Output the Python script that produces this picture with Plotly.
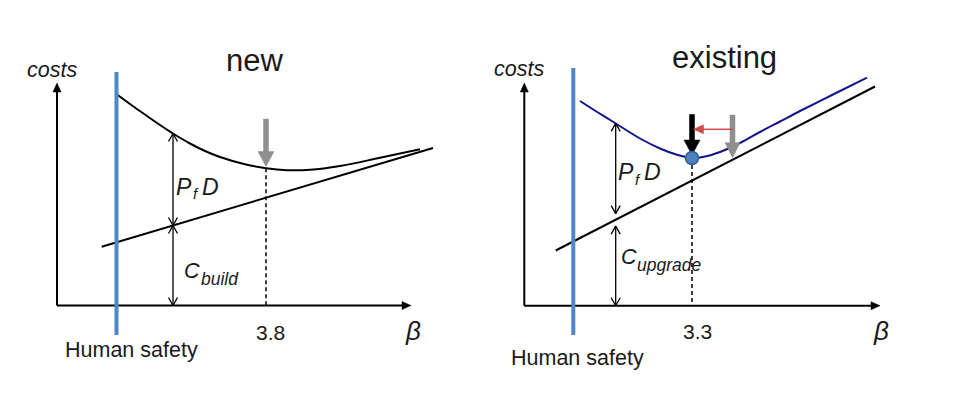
import numpy as np
import plotly.graph_objects as go

# ---------------- data (diagram units, one unit = one pixel of the canvas) ----------------
# Panel "new"
new_total_x = [117.7, 132, 147, 160, 173, 190, 205, 220, 245, 266, 287, 310, 340, 380, 420]
new_total_y = [95, 105.5, 116, 125, 133.5, 143.5, 151, 157, 164.3, 168.2, 170.2, 169.8, 166, 157.8, 149.3]
new_build_x = [101.7, 433]
new_build_y = [246.7, 148]
new_opt_x = 266          # beta = 3.8
new_tick_label = "3.8"

# Panel "existing"
ex_total_x = [580, 598, 615, 640, 660, 677, 692, 704, 720, 740, 760, 780, 800, 833, 867]
ex_total_y = [101, 112.5, 123, 138.5, 148.5, 154.8, 158, 156.8, 152, 143, 132, 121.5, 111, 94.5, 77.7]
ex_upgrade_x = [555.7, 875]
ex_upgrade_y = [250.5, 86.5]
ex_opt_x = 692           # beta = 3.3
ex_opt_y = 158
ex_tick_label = "3.3"
ex_old_opt_x = 732.5

FONT = "Liberation Sans, Arial, sans-serif"
TXT = "#1a1a1a"
PAGE_OFFSET = 8  # default body margin of the html page

fig = go.Figure()


def add_line(xs, ys, color="#000000", width=2, dash=None, shape="linear"):
    fig.add_trace(go.Scatter(x=xs, y=ys, mode="lines",
                             line=dict(color=color, width=width, dash=dash, shape=shape, smoothing=1.0),
                             hoverinfo="skip", showlegend=False))


def add_poly(xs, ys, color):
    fig.add_trace(go.Scatter(x=xs, y=ys, mode="lines", fill="toself", fillcolor=color,
                             line=dict(color=color, width=0.5),
                             hoverinfo="skip", showlegend=False))


def unit(x0, y0, x1, y1):
    d = np.array([x1 - x0, y1 - y0], float)
    d /= np.linalg.norm(d)
    n = np.array([-d[1], d[0]])
    return d, n


def block_arrow(x0, y0, x1, y1, shaft, hl, hw, color):
    d, n = unit(x0, y0, x1, y1)
    p0 = np.array([x0, y0], float)
    tip = np.array([x1, y1], float)
    base = tip - d * hl
    pts = [p0 + n * shaft / 2, base + n * shaft / 2, base + n * hw / 2, tip,
           base - n * hw / 2, base - n * shaft / 2, p0 - n * shaft / 2, p0 + n * shaft / 2]
    add_poly([p[0] for p in pts], [p[1] for p in pts], color)


def axis_arrow(x0, y0, x1, y1, color="#000000"):
    d, n = unit(x0, y0, x1, y1)
    tip = np.array([x1, y1], float)
    base = tip - d * 9
    add_line([x0, base[0]], [y0, base[1]], color, 2)
    pts = [base + n * 4, tip, base - n * 4, base + n * 4]
    add_poly([p[0] for p in pts], [p[1] for p in pts], color)


def open_head(x0, y0, x1, y1, color="#000000", hl=8, hw=9):
    d, n = unit(x0, y0, x1, y1)
    tip = np.array([x1, y1], float)
    base = tip - d * hl
    pts = [base + n * hw / 2, tip, base - n * hw / 2]
    add_line([p[0] for p in pts], [p[1] for p in pts], color, 1.3)


def dim_arrow(x, y0, y1, color="#000000"):
    add_line([x, x], [y0, y1], color, 1.3)
    open_head(x, y1, x, y0, color)
    open_head(x, y0, x, y1, color)


def line_y_at(xs, ys, x):
    return float(np.interp(x, xs, ys))


def txt(x, y, s, size, italic=False, xanchor="center"):
    fig.add_annotation(x=x, y=y, xref="x", yref="y", text=s, showarrow=False,
                       xanchor=xanchor, yanchor="middle",
                       font=dict(family=FONT, size=size, color=TXT,
                                 style="italic" if italic else "normal"))


# ---------------- panel "new" ----------------
ox1, oy1 = 57, 305.5
axis_arrow(ox1, oy1, 411, oy1)
axis_arrow(ox1, oy1, ox1, 83)
add_line(new_build_x, new_build_y, "#000000", 2)
add_line(new_total_x, new_total_y, "#000000", 2, shape="spline")
add_line([new_opt_x, new_opt_x], [line_y_at(new_total_x, new_total_y, new_opt_x), oy1],
         "#000000", 1.5, dash="4px,3px")
add_line([116.5, 116.5], [72, 335], "#4F86C6", 4)
xd1 = 173
yb1 = line_y_at(new_build_x, new_build_y, xd1)
dim_arrow(xd1, line_y_at(new_total_x, new_total_y, xd1), yb1)
dim_arrow(xd1, yb1, oy1)
block_arrow(new_opt_x, 119, new_opt_x, 166.5, 5, 15, 16, "#8F8F8F")

txt(254, 60, "new", 31)
txt(52, 70, "costs", 21.5, italic=True)
txt(131, 350, "Human safety", 21.5)
txt(270, 332, new_tick_label, 21)
txt(413, 331, "β", 26, italic=True)
txt(184, 187, "P", 23, italic=True)
txt(196, 193, "f", 15, italic=True)
txt(210, 187, "D", 23, italic=True)
txt(191.5, 271, "C", 21.5, italic=True)
txt(220, 279, "build", 17.5, italic=True)

# ---------------- panel "existing" ----------------
ox2, oy2 = 524.3, 305.7
axis_arrow(ox2, oy2, 880, oy2)
axis_arrow(ox2, oy2, ox2, 83)
add_line(ex_upgrade_x, ex_upgrade_y, "#000000", 2)
add_line(ex_total_x, ex_total_y, "#14148C", 2, shape="spline")
add_line([ex_opt_x, ex_opt_x], [ex_opt_y, oy2], "#000000", 1.5, dash="4px,3px")
add_line([573.3, 573.3], [68, 335], "#4F86C6", 4)
xd2 = 615.7
yu2 = line_y_at(ex_upgrade_x, ex_upgrade_y, xd2)
dim_arrow(xd2, line_y_at(ex_total_x, ex_total_y, xd2), yu2 - 6)
dim_arrow(xd2, yu2 + 6.5, oy2)
block_arrow(ex_old_opt_x, 115, ex_old_opt_x, line_y_at(ex_upgrade_x, ex_upgrade_y, ex_old_opt_x) - 2,
            5, 15, 15, "#8F8F8F")
block_arrow(ex_opt_x, 114.5, ex_opt_x, ex_opt_y - 3, 5, 15, 16, "#000000")
# red shift arrow
add_line([ex_old_opt_x, ex_opt_x + 9], [129.3, 129.3], "#D04848", 1.5)
d_, n_ = unit(ex_old_opt_x, 129.3, ex_opt_x + 1, 129.3)
tip_ = np.array([ex_opt_x + 1.5, 129.3])
b_ = tip_ - d_ * 10
add_poly([b_[0] + n_[0] * 4.5, tip_[0], b_[0] - n_[0] * 4.5, b_[0] + n_[0] * 4.5],
         [b_[1] + n_[1] * 4.5, tip_[1], b_[1] - n_[1] * 4.5, b_[1] + n_[1] * 4.5], "#D04848")
fig.add_trace(go.Scatter(x=[ex_opt_x], y=[ex_opt_y], mode="markers",
                         marker=dict(size=13, color="#4F81BD", line=dict(color="#2F5D95", width=1.5)),
                         hoverinfo="skip", showlegend=False))

txt(724, 57, "existing", 31)
txt(519, 69, "costs", 21.5, italic=True)
txt(577.5, 357.5, "Human safety", 21.5)
txt(697.5, 331, ex_tick_label, 21)
txt(881, 331, "β", 26, italic=True)
txt(625.5, 172, "P", 23, italic=True)
txt(638, 179, "f", 15, italic=True)
txt(652, 172, "D", 23, italic=True)
txt(628.5, 257, "C", 21.5, italic=True)
txt(668.5, 265, "upgrade", 17.5, italic=True)

# the page places the figure PAGE_OFFSET px from the window corner; shift the
# ranges so diagram units coincide with window pixels
fig.update_layout(
    width=960, height=397,
    margin=dict(l=0, r=0, t=0, b=0),
    paper_bgcolor="white", plot_bgcolor="white",
    xaxis=dict(range=[PAGE_OFFSET, 960 + PAGE_OFFSET], visible=False, fixedrange=True),
    yaxis=dict(range=[397 + PAGE_OFFSET, PAGE_OFFSET], visible=False, fixedrange=True),
    showlegend=False,
)
fig.write_html("out.html")
